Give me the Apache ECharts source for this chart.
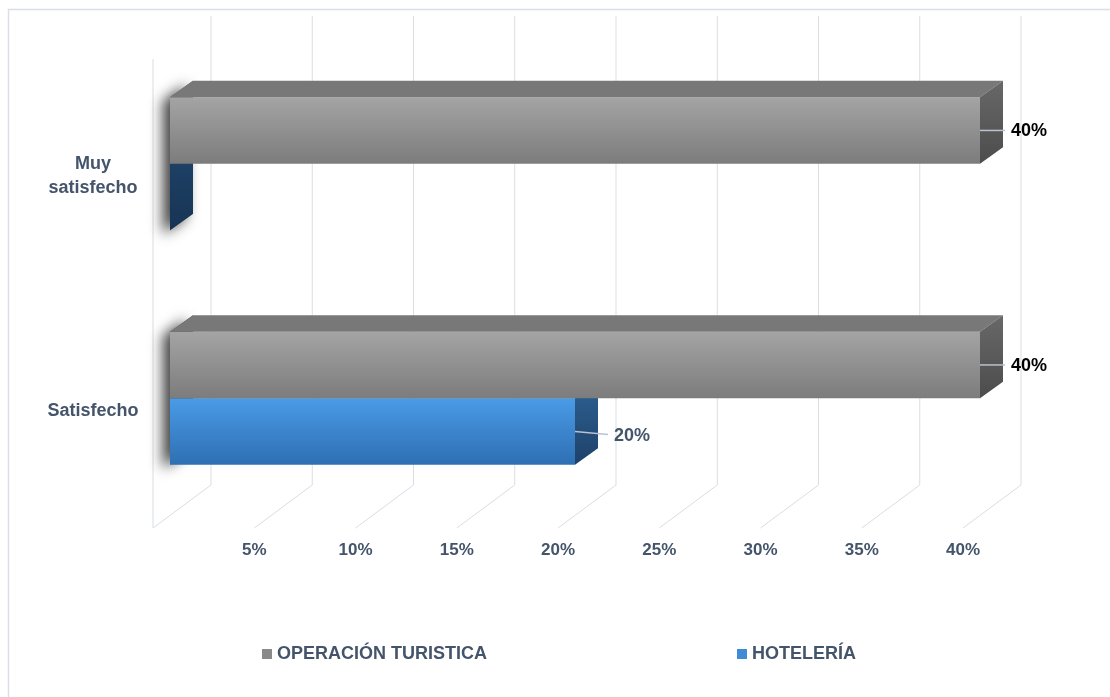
<!DOCTYPE html>
<html>
<head>
<meta charset="utf-8">
<script src="https://cdn.jsdelivr.net/npm/echarts@6/dist/echarts.min.js"></script>
<style>
  html, body { margin: 0; padding: 0; background: #fff; }
  #chart { width: 1110px; height: 697px; }
</style>
</head>
<body>
<div id="chart"></div>
<script>
// datos
var categories = ['Satisfecho', 'Muy\nsatisfecho'];
var operacion = [40, 40];   // OPERACIÓN TURISTICA
var hoteleria = [20, 0];    // HOTELERÍA
var xTicks = [0, 5, 10, 15, 20, 25, 30, 35, 40];

var chart = echarts.init(document.getElementById('chart'));

// profundidad de la "caja" 3d y de las barras
var WX = 58, WY = -43;     // pared del fondo
var FX = 17, FY = -12.5;   // cara frontal de las barras
var DX = 23, DY = -16.5;   // fondo de cada barra
var gridColor = '#d9dee5';
var txtColor = '#44546a';

function lin(c1, c2) {
    return new echarts.graphic.LinearGradient(0, 0, 0, 1, [
        { offset: 0, color: c1 }, { offset: 1, color: c2 }
    ]);
}

function gridRender(params, api) {
    var cs = params.coordSys;
    var v = api.value(0);
    var x = api.coord([v, 0])[0];
    var bottom = cs.y + cs.height;
    var kids = [
        { type: 'line', shape: { x1: x + WX, y1: cs.y + WY, x2: x + WX, y2: bottom + WY },
          style: { stroke: gridColor, lineWidth: 1 } },
        { type: 'line', shape: { x1: x + WX, y1: bottom + WY, x2: x, y2: bottom },
          style: { stroke: gridColor, lineWidth: 1 } }
    ];
    if (v === 0) {
        kids.push({ type: 'line', shape: { x1: x, y1: cs.y, x2: x, y2: bottom },
            style: { stroke: gridColor, lineWidth: 1 } });
    }
    return { type: 'group', children: kids };
}

function shadowRender(params, api) {
    var cat = api.value(0);
    var p = api.coord([0, cat]);
    var H = api.size([0, 1])[1] * 0.284;
    var x0 = p[0] + FX, yT = p[1] - H + FY, yB = p[1] + H + FY;
    return {
        type: 'polygon',
        shape: { points: [[x0, yT], [x0 + DX, yT + DY], [x0 + DX, yB + DY], [x0, yB]] },
        style: { fill: '#555', shadowBlur: 14, shadowColor: 'rgba(0,0,0,0.75)', shadowOffsetX: -7, shadowOffsetY: 4 }
    };
}

function makeBarRender(upper, cols) {
    return function (params, api) {
        var v = api.value(0), cat = api.value(1);
        var p0 = api.coord([0, cat]), p1 = api.coord([v, cat]);
        var H = api.size([0, 1])[1] * 0.284;
        var x0 = p0[0] + FX, x1 = p1[0] + FX;
        var yT = (upper ? p0[1] - H : p0[1]) + FY;
        var yB = yT + H;
        var kids = [];
        if (v > 0) {
            kids.push({ type: 'rect', shape: { x: x0, y: yT, width: x1 - x0, height: H },
                style: { fill: lin(cols.front[0], cols.front[1]) } });
            kids.push({ type: 'polygon',
                shape: { points: [[x0, yT], [x0 + DX, yT + DY], [x1 + DX, yT + DY], [x1, yT]] },
                style: { fill: cols.top } });
        }
        kids.push({ type: 'polygon',
            shape: { points: [[x1, yT], [x1 + DX, yT + DY], [x1 + DX, yB + DY], [x1, yB]] },
            style: { fill: lin(v > 0 ? cols.side[0] : cols.zero[0], v > 0 ? cols.side[1] : cols.zero[1]) } });
        if (v > 0) {
            var cy = (yT + yB) / 2;
            kids.push({ type: 'line',
                shape: { x1: x1, y1: cy, x2: x1 + cols.lead[0], y2: cy + cols.lead[1] },
                style: { stroke: '#b7c3d1', lineWidth: 1.5 } });
            kids.push({ type: 'text',
                style: { x: x1 + cols.lead[0] + 6, y: cy + cols.lead[1] + 1, text: v + '%',
                    fill: cols.label, font: 'bold 18px "Liberation Sans", Arial, sans-serif',
                    textAlign: 'left', textVerticalAlign: 'middle' } });
        }
        return { type: 'group', children: kids };
    };
}

var grayCols = { front: ['#a4a4a4', '#7c7c7c'], top: '#787878', side: ['#686868', '#4c4c4c'],
    zero: ['#686868', '#4c4c4c'], lead: [25, 0], label: '#000000' };
var blueCols = { front: ['#4a9be7', '#2e6fb2'], top: '#2f5f92', side: ['#2e6193', '#1d4269'],
    zero: ['#1f4369', '#173454'], lead: [33, 3], label: txtColor };

var option = {
    backgroundColor: '#ffffff',
    animation: false,
    textStyle: { fontFamily: '"Liberation Sans", Arial, sans-serif' },
    graphic: [{
        type: 'rect', shape: { x: 8.5, y: 9.5, width: 1120, height: 720 },
        style: { fill: 'none', stroke: '#dadfe6', lineWidth: 1.5 }, silent: true, z: 100
    }],
    legend: {
        left: 262, top: 645, padding: 0,
        itemWidth: 10, itemHeight: 10, itemGap: 250,
        textStyle: { color: txtColor, fontSize: 18, fontWeight: 'bold' },
        data: [
            { name: 'OPERACIÓN TURISTICA', icon: 'rect', itemStyle: { color: '#8a8a8a' } },
            { name: 'HOTELERÍA', icon: 'rect', itemStyle: { color: '#3f8bd6' } }
        ]
    },
    grid: { left: 153, right: 147, top: 59, bottom: 169 },
    xAxis: {
        type: 'value', min: 0, max: 40, interval: 5,
        axisLine: { show: false }, axisTick: { show: false }, splitLine: { show: false },
        axisLabel: {
            color: txtColor, fontSize: 17, fontWeight: 'bold', margin: 14,
            formatter: function (v) { return v === 0 ? '' : v + '%'; }
        }
    },
    yAxis: {
        type: 'category', data: categories,
        axisLine: { show: false }, axisTick: { show: false }, splitLine: { show: false },
        axisLabel: { color: txtColor, fontSize: 18, fontWeight: 'bold', margin: 60, lineHeight: 24, align: 'center' }
    },
    series: [
        { name: 'grid3d', type: 'custom', renderItem: gridRender, silent: true,
          data: xTicks.map(function (t) { return [t]; }), z: 1 },
        { name: 'sombra', type: 'custom', renderItem: shadowRender, silent: true,
          data: categories.map(function (c, i) { return [i]; }), z: 2 },
        { name: 'HOTELERÍA', type: 'custom', renderItem: makeBarRender(false, blueCols),
          itemStyle: { color: '#3f8bd6' },
          data: hoteleria.map(function (v, i) { return [v, i]; }), z: 3 },
        { name: 'OPERACIÓN TURISTICA', type: 'custom', renderItem: makeBarRender(true, grayCols),
          itemStyle: { color: '#8a8a8a' },
          data: operacion.map(function (v, i) { return [v, i]; }), z: 4 }
    ]
};

chart.setOption(option);
</script>
</body>
</html>
